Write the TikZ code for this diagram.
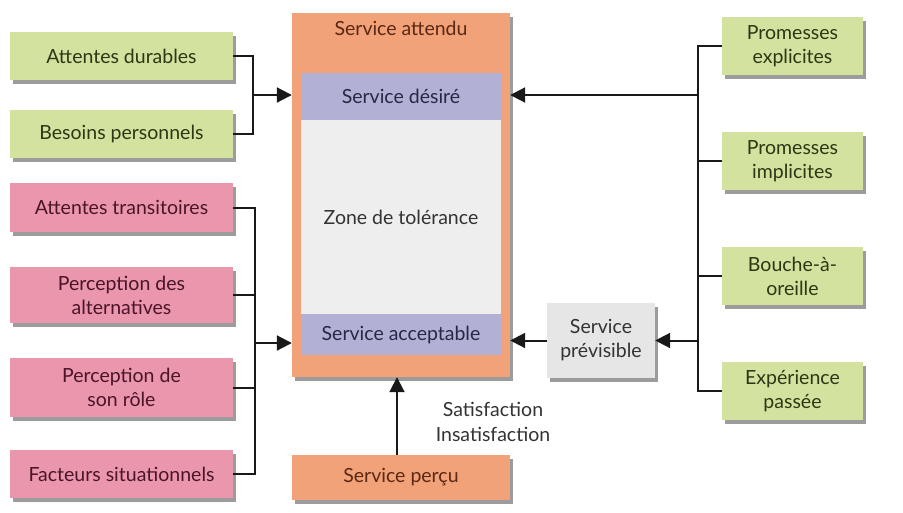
\documentclass[tikz,border=0pt]{standalone}
\usepackage{fontspec}
\setmainfont{Lato}
\usetikzlibrary{shadows,arrows.meta}
\definecolor{gfill}{RGB}{212,226,160}
\definecolor{gtext}{RGB}{45,55,20}
\definecolor{pfill}{RGB}{234,150,172}
\definecolor{ptext}{RGB}{75,20,40}
\definecolor{ofill}{RGB}{242,162,120}
\definecolor{otext}{RGB}{90,40,20}
\definecolor{vfill}{RGB}{178,176,212}
\definecolor{vtext}{RGB}{40,40,70}
\definecolor{zfill}{RGB}{238,238,238}
\definecolor{sfill}{RGB}{230,230,230}
\tikzset{
  txt/.style={font=\fontsize{19.5}{24}\selectfont},
  base/.style={txt, inner sep=0pt, align=center,
    drop shadow={shadow xshift=3pt, shadow yshift=-4pt, opacity=0.55, fill=black!70}},
  gbox/.style={base, fill=gfill, text=gtext},
  pbox/.style={base, fill=pfill, text=ptext},
  obox/.style={base, fill=ofill, text=otext},
  sbox/.style={base, fill=sfill, text=black!80},
  vbox/.style={txt, inner sep=0pt, align=center, fill=vfill, text=vtext},
  zbox/.style={txt, inner sep=0pt, align=center, fill=zfill, text=black!80},
  conn/.style={line width=2pt, black!90},
  arr/.style={conn, -{Triangle[length=15pt,width=15pt]}},
}
\begin{document}
\begin{tikzpicture}[x=1pt,y=-1pt]
\useasboundingbox (0,0) rectangle (903,512);
\fill[white] (0,0) rectangle (903,512);
% left green
\node[gbox, minimum width=223pt, minimum height=48pt] (ad) at (121.5,56) {Attentes durables};
\node[gbox, minimum width=223pt, minimum height=48pt] (bp) at (121.5,134) {Besoins personnels};
% left pink
\node[pbox, minimum width=223pt, minimum height=49pt] (at) at (121.5,207.5) {Attentes transitoires};
\node[pbox, minimum width=223pt, minimum height=56pt] (pa) at (121.5,295) {Perception des\\alternatives};
\node[pbox, minimum width=223pt, minimum height=59pt] (pr) at (121.5,387.5) {Perception de\\son rôle};
\node[pbox, minimum width=223pt, minimum height=48pt] (fs) at (121.5,474) {Facteurs situationnels};
% center
\node[obox, minimum width=218pt, minimum height=364pt] (sa) at (401,195) {};
\node[txt, text=otext] (sat) at (401,28) {Service attendu};
\node[vbox, minimum width=200pt, minimum height=47pt] (sd) at (401,96.5) {Service désiré};
\node[zbox, minimum width=200pt, minimum height=194pt] (zt) at (401,217) {Zone de tolérance};
\node[vbox, minimum width=200pt, minimum height=41pt] (sac) at (401,334.5) {Service acceptable};
\node[obox, minimum width=218pt, minimum height=45pt] (sp) at (401,477.5) {Service perçu};
\node[align=center, font=\fontsize{19.5}{25}\selectfont, text=black!80] (si) at (493,422) {Satisfaction\\Insatisfaction};
% right
\node[gbox, minimum width=141pt, minimum height=58pt] (pe) at (792.5,46) {Promesses\\explicites};
\node[gbox, minimum width=141pt, minimum height=58pt] (pim) at (792.5,161) {Promesses\\implicites};
\node[gbox, minimum width=141pt, minimum height=58pt] (bo) at (792.5,276) {Bouche-à-\\oreille};
\node[gbox, minimum width=141pt, minimum height=58pt] (ep) at (792.5,391) {Expérience\\passée};
\node[sbox, minimum width=108pt, minimum height=75pt] (sv) at (601,340.5) {Service\\prévisible};
% coordinates
\coordinate (lg) at (253,95);
\coordinate (lp) at (255,343);
\coordinate (rv) at (698,95);
\coordinate (rv2) at (698,340.5);
% left green connectors
\draw[conn] (ad.east) -| (lg) |- (bp.east);
\draw[arr] (lg) -- (sa.west |- lg);
% left pink connectors
\draw[conn] (at.east) -| (lp) |- (fs.east);
\draw[conn] (pa.east) -- (pa.east -| lp);
\draw[conn] (pr.east) -- (pr.east -| lp);
\draw[arr] (lp) -- (sa.west |- lp);
% right connectors
\draw[conn] (pe.west) -| (rv) |- (ep.west);
\draw[conn] (pim.west) -- (pim.west -| rv);
\draw[conn] (bo.west) -- (bo.west -| rv);
\draw[arr] (rv) -- (sa.east |- rv);
\draw[arr] (rv2) -- (sv.east);
\draw[arr] (sv.west) -- (sa.east |- sv.west);
% bottom
\draw[arr] ([xshift=-4pt]sp.north) -- ([xshift=-4pt]sa.south);
\end{tikzpicture}
\end{document}
